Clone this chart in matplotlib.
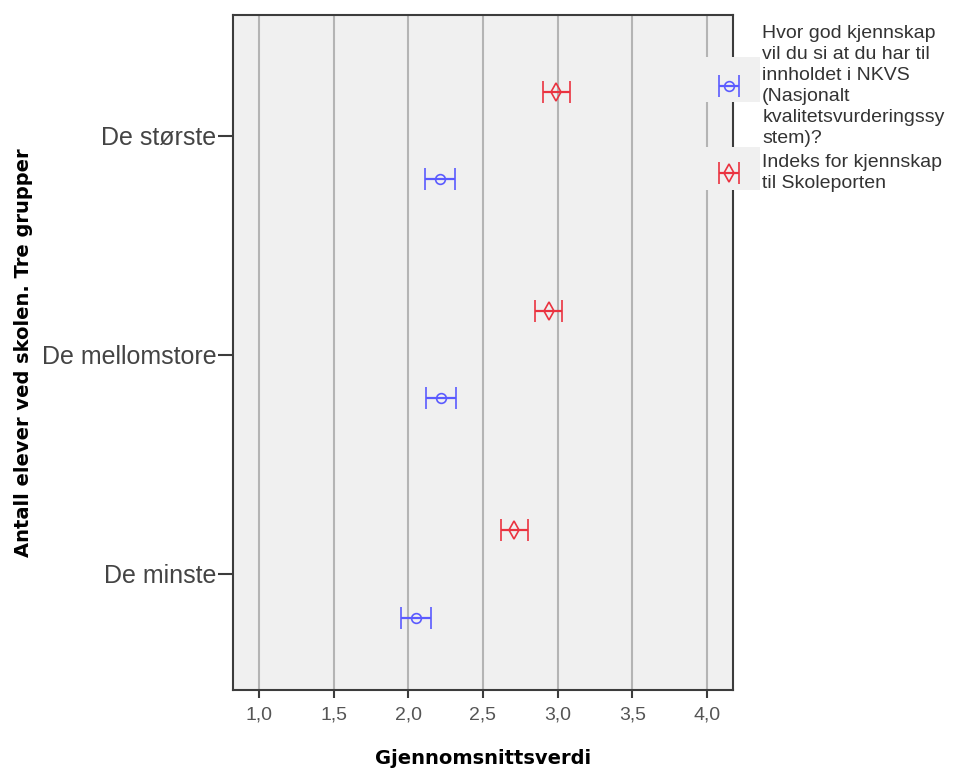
import matplotlib
matplotlib.use("Agg")
import matplotlib.pyplot as plt
import matplotlib.patches as patches
import numpy as np

plt.rcParams['font.family'] = ['Liberation Sans', 'DejaVu Sans']

### Data ###
groups = ['De minste', 'De mellomstore', 'De største']
nkvs_mean = [2.05, 2.22, 2.21]
nkvs_err = [0.10, 0.10, 0.10]
skole_mean = [2.71, 2.94, 2.99]
skole_err = [0.09, 0.09, 0.09]

label_nkvs = ('Hvor god kjennskap\nvil du si at du har til\ninnholdet i NKVS\n'
              '(Nasjonalt\nkvalitetsvurderingssy\nstem)?')
label_skole = 'Indeks for kjennskap\ntil Skoleporten'

blue = '#5b5bff'
red = '#ea3340'

### Plot ###
fig = plt.figure(figsize=(9.54, 7.68), dpi=100)
ax = fig.add_axes([0.2442, 0.1016, 0.5241, 0.8789])
ax.set_facecolor('#f0f0f0')

y = np.arange(len(groups))
h_blue = ax.errorbar(nkvs_mean, y - 0.2, xerr=nkvs_err, fmt='o', color=blue,
                     mfc='none', mec=blue, ms=7, mew=1.2, elinewidth=1.6,
                     capsize=8, capthick=1.6, zorder=3)
h_red = ax.errorbar(skole_mean, y + 0.2, xerr=skole_err, fmt='d', color=red,
                    mfc='none', mec=red, ms=9, mew=1.2, elinewidth=1.6,
                    capsize=8, capthick=1.6, zorder=3)

ax.set_xlim(0.826, 4.174)
ax.set_ylim(-0.53, 2.55)
ax.set_xticks([1.0, 1.5, 2.0, 2.5, 3.0, 3.5, 4.0])
ax.set_xticklabels(['1,0', '1,5', '2,0', '2,5', '3,0', '3,5', '4,0'])
ax.set_yticks(y)
ax.set_yticklabels(groups)
ax.xaxis.grid(True, color='#b4b4b4', linewidth=1.5)
ax.set_axisbelow(True)

for s in ax.spines.values():
    s.set_color('#3c3c3c')
    s.set_linewidth(1.5)
ax.tick_params(axis='x', length=6, width=1.5, color='#3c3c3c',
               labelsize=14, labelcolor='#555555', pad=6)
ax.tick_params(axis='y', length=11, width=1.5, color='#3c3c3c',
               labelsize=18, labelcolor='#444444', pad=1)

ax.set_xlabel('Gjennomsnittsverdi', fontsize=14, fontweight='bold',
              family='DejaVu Sans', labelpad=18)
ax.set_ylabel('Antall elever ved skolen. Tre grupper', fontsize=14,
              fontweight='bold', family='DejaVu Sans', labelpad=6)

# gray boxes behind legend markers
for yb, hb in [(0.867, 0.059), (0.752, 0.056)]:
    fig.patches.append(patches.Rectangle((0.734, yb), 0.063, hb,
                                         transform=fig.transFigure,
                                         facecolor='#f0f0f0', edgecolor='none',
                                         zorder=1))

leg = fig.legend([h_blue, h_red], [label_nkvs, label_skole],
                 loc='upper left', bbox_to_anchor=(0.7255, 0.985),
                 frameon=False, fontsize=14, handlelength=2.4,
                 handletextpad=0.5, labelspacing=0.4, borderpad=0.2)
for t in leg.get_texts():
    t.set_color('#333333')
    t.set_linespacing(1.3)

fig.savefig('out.png', dpi=100)
